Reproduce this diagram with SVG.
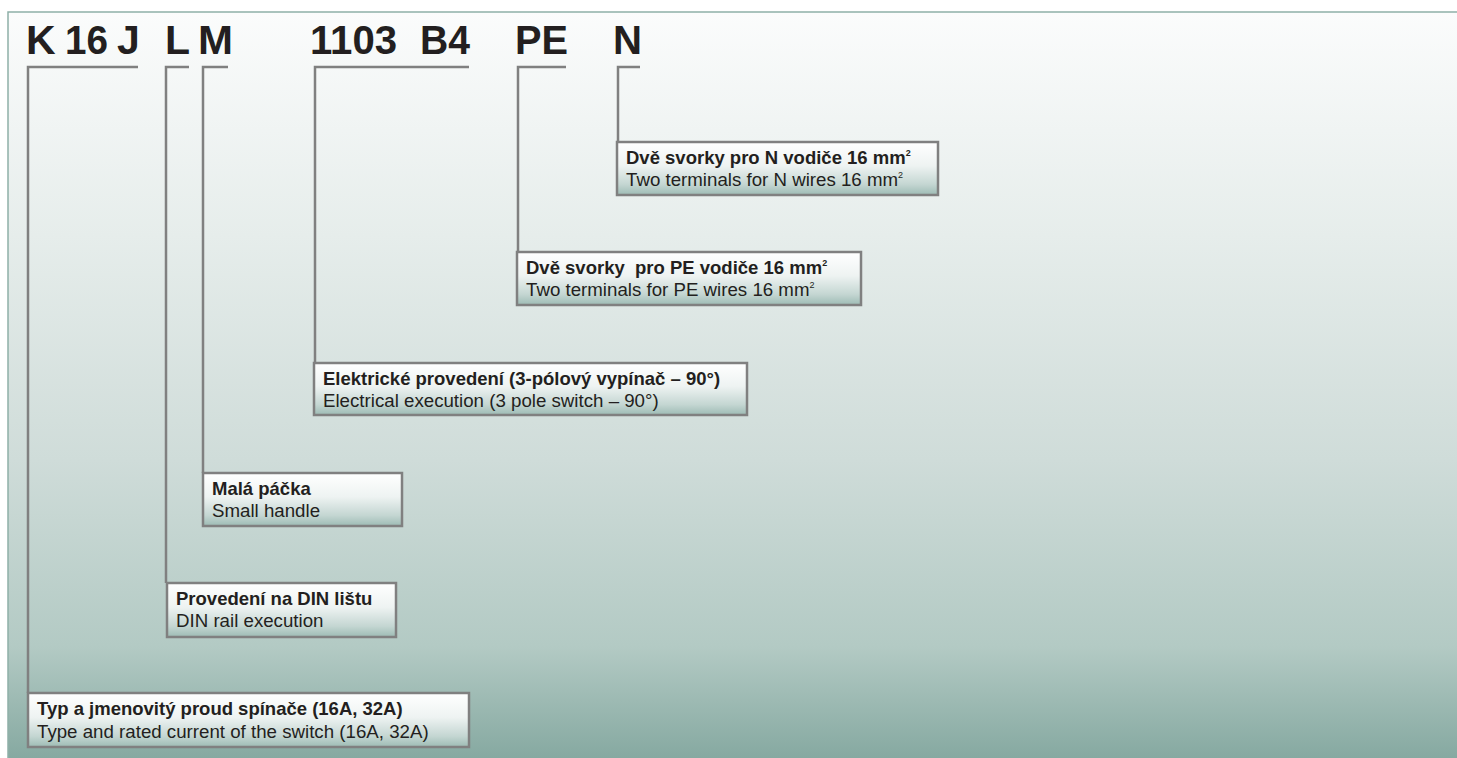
<svg xmlns="http://www.w3.org/2000/svg" width="1457" height="758" viewBox="0 0 1457 758">
<defs>
<linearGradient id="bg" x1="0" y1="0" x2="0" y2="1">
<stop offset="0" stop-color="#fbfcfc"/>
<stop offset="0.3" stop-color="#e6edeb"/>
<stop offset="0.6" stop-color="#cfdcd9"/>
<stop offset="0.85" stop-color="#b3cac4"/>
<stop offset="1" stop-color="#86a9a1"/>
</linearGradient>
<linearGradient id="box" x1="0" y1="0" x2="0" y2="1">
<stop offset="0" stop-color="#ffffff"/>
<stop offset="0.45" stop-color="#eef3f2"/>
<stop offset="0.8" stop-color="#c4d6d2"/>
<stop offset="1" stop-color="#9dbbb4"/>
</linearGradient>
<style>
.box{fill:url(#box);stroke:#808080;stroke-width:2.5}
.b{font-family:"Liberation Sans",Arial,sans-serif;font-weight:bold;font-size:18.5px;fill:#231f20}
.r{font-family:"Liberation Sans",Arial,sans-serif;font-size:18.7px;fill:#231f20}
.sup{font-size:9px}
.hdr{font-family:"Liberation Sans",Arial,sans-serif;font-weight:bold;font-size:41px;fill:#231f20}
.con{fill:none;stroke:#808080;stroke-width:2.5}
</style>
</defs>
<rect x="0" y="0" width="1457" height="758" fill="#ffffff"/>
<rect x="8" y="12" width="1449" height="746" fill="url(#bg)"/>
<path d="M8,758 V12 H1457" fill="none" stroke="#8fb0a8" stroke-width="1.5"/>
<g id="header">
<text class="hdr" y="54" transform="translate(0,0)"><tspan x="26">K</tspan><tspan x="65" textLength="43" lengthAdjust="spacingAndGlyphs">16</tspan><tspan x="117">J</tspan><tspan x="165">L</tspan><tspan x="198" textLength="35" lengthAdjust="spacingAndGlyphs">M</tspan><tspan x="310" textLength="87" lengthAdjust="spacingAndGlyphs">1103</tspan><tspan x="420" textLength="50" lengthAdjust="spacingAndGlyphs">B4</tspan><tspan x="515" textLength="53" lengthAdjust="spacingAndGlyphs">PE</tspan><tspan x="613" textLength="29" lengthAdjust="spacingAndGlyphs">N</tspan></text>
</g>
<g id="connectors">
<path class="con" d="M138,67 H28 V693"/>
<path class="con" d="M189,67 H166 V583"/>
<path class="con" d="M228,67 H203 V473"/>
<path class="con" d="M469,67 H315 V363"/>
<path class="con" d="M566,67 H518 V252"/>
<path class="con" d="M640,67 H618 V142"/>
</g>
<g id="node-n">
<rect class="box" x="617" y="142" width="321" height="53"/>
<text class="b" x="626" y="164">Dvě svorky pro N vodiče 16 mm<tspan class="sup" dy="-8">2</tspan></text>
<text class="r" x="626" y="186">Two terminals for N wires 16 mm<tspan class="sup" dy="-8">2</tspan></text>
</g>
<g id="node-pe">
<rect class="box" x="517" y="252" width="344" height="53"/>
<text class="b" x="526" y="274" xml:space="preserve">Dvě svorky  pro PE vodiče 16 mm<tspan class="sup" dy="-8">2</tspan></text>
<text class="r" x="526" y="296">Two terminals for PE wires 16 mm<tspan class="sup" dy="-8">2</tspan></text>
</g>
<g id="node-elec">
<rect class="box" x="314" y="363" width="433" height="52"/>
<text class="b" x="323" y="385">Elektrické provedení (3-pólový vypínač – 90°)</text>
<text class="r" x="323" y="407">Electrical execution (3 pole switch – 90°)</text>
</g>
<g id="node-mala">
<rect class="box" x="203" y="473" width="199" height="53"/>
<text class="b" x="212" y="495">Malá páčka</text>
<text class="r" x="212" y="517">Small handle</text>
</g>
<g id="node-din">
<rect class="box" x="167" y="583" width="229" height="54"/>
<text class="b" x="176" y="605">Provedení na DIN lištu</text>
<text class="r" x="176" y="627">DIN rail execution</text>
</g>
<g id="node-typ">
<rect class="box" x="28" y="693" width="441" height="54"/>
<text class="b" x="37" y="715">Typ a jmenovitý proud spínače (16A, 32A)</text>
<text class="r" x="37" y="738">Type and rated current of the switch (16A, 32A)</text>
</g>
</svg>
